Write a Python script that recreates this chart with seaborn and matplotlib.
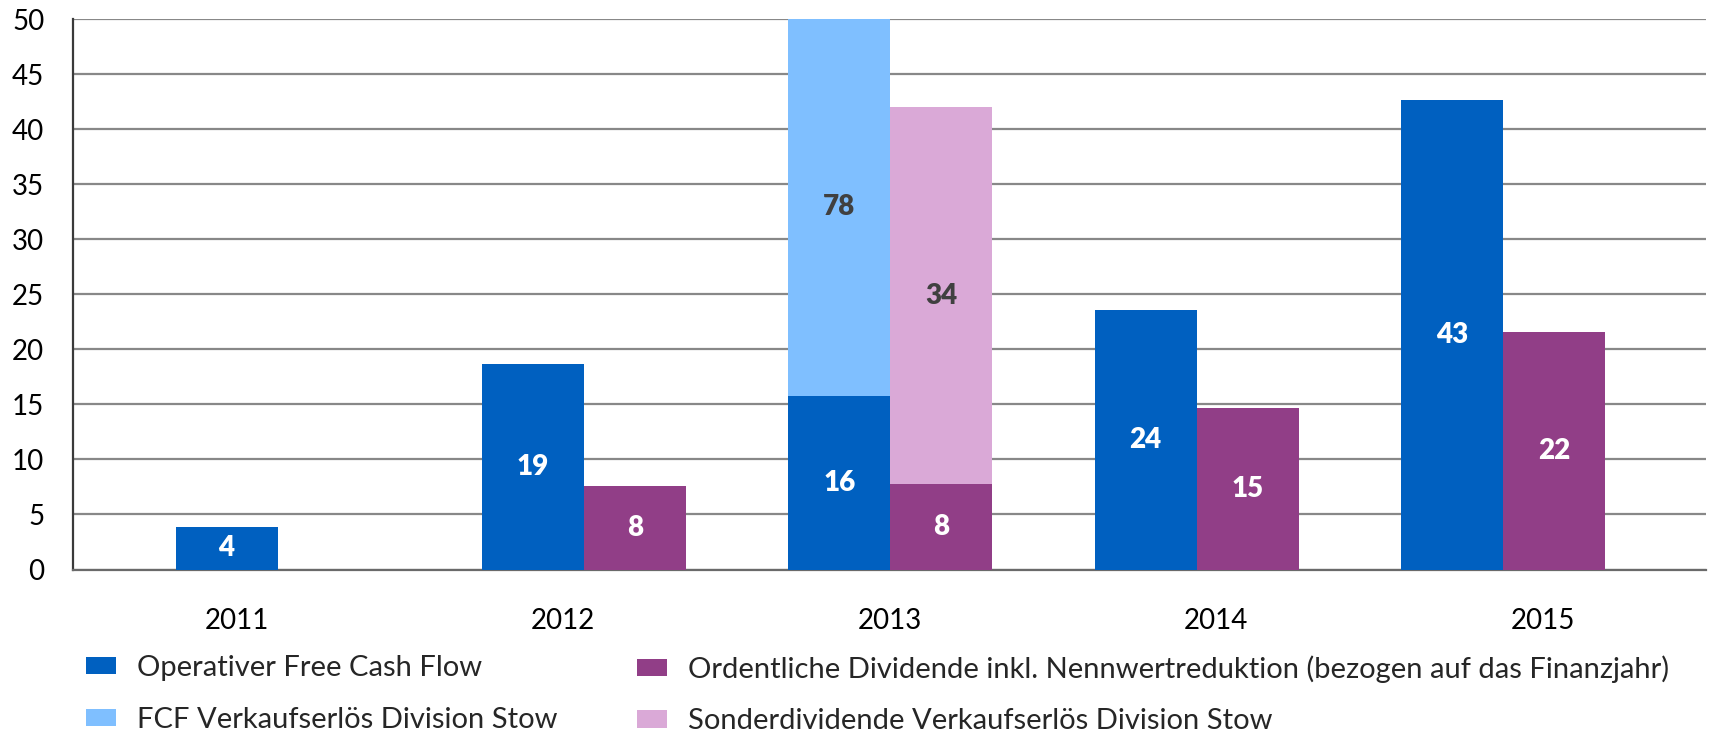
import matplotlib
matplotlib.use("Agg")
import matplotlib.pyplot as plt
import numpy as np
import pandas as pd
import seaborn as sns
from matplotlib.patches import Patch

# ---------------- data ----------------
years = ["2011", "2012", "2013", "2014", "2015"]
fcf_operativ = [3.9, 18.7, 15.8, 23.6, 42.7]
fcf_stow = [0, 0, 78, 0, 0]
dividende = [0, 7.6, 7.8, 14.7, 21.6]
sonderdividende = [0, 0, 34.2, 0, 0]

series_names = [
    "Operativer Free Cash Flow",
    "FCF Verkaufserlös Division Stow",
    "Ordentliche Dividende inkl. Nennwertreduktion (bezogen auf das Finanzjahr)",
    "Sonderdividende Verkaufserlös Division Stow",
]
y_ticks = [0, 5, 10, 15, 20, 25, 30, 35, 40, 45, 50]

# ---------------- style ----------------
C_FCF = "#0060C0"
C_STOW = "#7FBFFF"
C_DIV = "#913E87"
C_SONDER = "#DAA9D7"

sns.set_theme(style="white")
plt.rcParams["font.family"] = ["Lato", "DejaVu Sans"]
FS = 20
LFS = 21

fig = plt.figure(figsize=(17.09, 7.34), dpi=100)
W, H = 1709, 734
left, right, top, bottom = 73.4, 1706, 19.3, 569.5
ax = fig.add_axes([left / W, 1 - bottom / H, (right - left) / W, (bottom - top) / H])

ax.set_xlim(-0.5, 4.5)
ax.set_ylim(0, 50)
ax.set_xticks(range(len(years)))
ax.set_xticklabels(years)
ax.set_yticks(y_ticks)
ax.set_yticklabels([str(t) for t in y_ticks])
ax.tick_params(axis="x", length=0, pad=28, labelsize=FS, labelcolor="black")
ax.tick_params(axis="y", length=0, pad=21, labelsize=FS, labelcolor="black")
ax.yaxis.grid(True, color="#888888", linewidth=1.6)
ax.xaxis.grid(False)
ax.set_axisbelow(True)
for s in ["top", "right"]:
    ax.spines[s].set_visible(False)
ax.spines["left"].set_color("#3a3a3a")
ax.spines["left"].set_linewidth(1.6)
ax.spines["bottom"].set_color("#6a6a6a")
ax.spines["bottom"].set_linewidth(1.6)

# bars on a twin x-axis
ax2 = ax.twiny()
groups = ["FCF", "Div"]
top_df = pd.DataFrame({
    "Jahr": years * 2,
    "Gruppe": ["FCF"] * 5 + ["Div"] * 5,
    "Wert": [a + b for a, b in zip(fcf_operativ, fcf_stow)] + [a + b for a, b in zip(dividende, sonderdividende)],
})
base_df = pd.DataFrame({
    "Jahr": years * 2,
    "Gruppe": ["FCF"] * 5 + ["Div"] * 5,
    "Wert": fcf_operativ + dividende,
})
sns.barplot(data=top_df, x="Jahr", y="Wert", hue="Gruppe", hue_order=groups,
            palette={"FCF": C_STOW, "Div": C_SONDER}, width=2 / 3, dodge=True,
            errorbar=None, linewidth=0, saturation=1, legend=False, ax=ax2)
n_top = len(ax2.containers)
sns.barplot(data=base_df, x="Jahr", y="Wert", hue="Gruppe", hue_order=groups,
            palette={"FCF": C_FCF, "Div": C_DIV}, width=2 / 3, dodge=True,
            errorbar=None, linewidth=0, saturation=1, legend=False, ax=ax2)

ax2.set_xlim(-0.667, 4.663)
ax2.set_ylim(0, 50)
ax.set_ylim(0, 50)
ax2.set_xlabel("")
ax2.set_ylabel("")
ax2.tick_params(top=False, labeltop=False, bottom=False, labelbottom=False)
for s in ax2.spines.values():
    s.set_visible(False)
ax2.grid(False)

# labels on base bars (white)
base_vals = [fcf_operativ, dividende]
for cont, vals in zip(ax2.containers[n_top:], base_vals):
    labs = [f"{v:.0f}" if v > 0 else "" for v in vals]
    ax2.bar_label(cont, labels=labs, label_type="center", color="white",
                  fontsize=FS, fontweight="heavy")

# labels on top segments (dark grey), centred on the visible part
top_segs = [fcf_stow, sonderdividende]
for cont, segs, bases in zip(ax2.containers[:n_top], top_segs, base_vals):
    for patch, seg, b in zip(cont.patches, segs, bases):
        if seg > 0:
            vis_top = min(b + seg, 50)
            ax2.text(patch.get_x() + patch.get_width() / 2, (b + vis_top) / 2,
                     f"{seg:.0f}", ha="center", va="center", color="#404040",
                     fontsize=FS, fontweight="heavy")

# legend (two columns as two legends)
hd = [Patch(facecolor=c, edgecolor="none") for c in [C_FCF, C_STOW, C_DIV, C_SONDER]]
common = dict(frameon=False, fontsize=LFS, handlelength=1.03, handleheight=0.55,
              handletextpad=0.72, labelspacing=0.88, borderpad=0, borderaxespad=0,
              loc="upper left")
leg1 = fig.legend(hd[:2], series_names[:2], bbox_to_anchor=(86 / W, 1 - 655 / H), **common)
leg2 = fig.legend(hd[2:], series_names[2:], bbox_to_anchor=(637 / W, 1 - 655 / H), **common)

fig.savefig("out.png", dpi=100)
